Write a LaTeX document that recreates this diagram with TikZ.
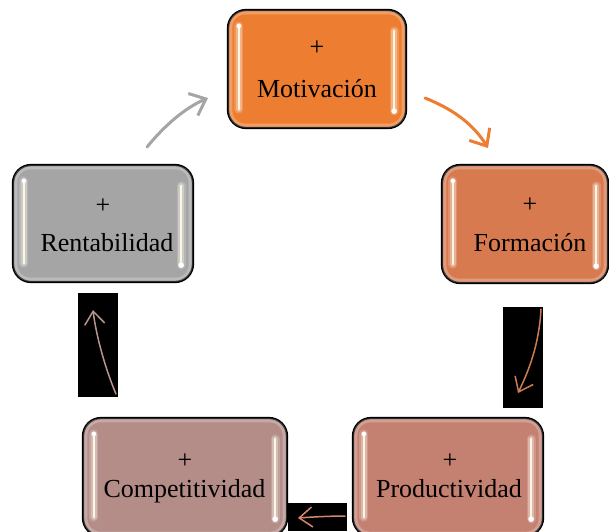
\documentclass[tikz,border=0pt]{standalone}
\usepackage{fontspec}
\setmainfont{Liberation Serif}
\usetikzlibrary{arrows.meta,calc}

\definecolor{motfill}{RGB}{237,125,49}
\definecolor{forfill}{RGB}{216,122,80}
\definecolor{profill}{RGB}{196,128,112}
\definecolor{comfill}{RGB}{180,141,136}
\definecolor{renfill}{RGB}{165,165,165}
\definecolor{arrowA}{RGB}{237,125,49}
\definecolor{arrowB}{RGB}{205,125,85}
\definecolor{arrowC}{RGB}{212,135,110}
\definecolor{arrowD}{RGB}{184,148,142}
\definecolor{arrowE}{RGB}{165,165,165}
\definecolor{shine}{RGB}{255,246,220}

\tikzset{
  stagebox/.style={draw=black, line width=2.3pt, rounded corners=18pt, fill=#1},
  stagetext/.style={font=\fontsize{26pt}{30pt}\selectfont, anchor=base, inner sep=0pt},
  thickflow/.style={line width=3pt, line cap=round,
    -{Straight Barb[length=14pt,width=24pt,line width=3pt]}},
  thinflow/.style={line width=1.5pt, line cap=round,
    -{Straight Barb[length=13pt,width=20pt,line width=1.5pt]}},
  inkpanel/.style={fill=black},
  glowline/.style={line cap=round},
}

% one glossy bar between two points
\newcommand\shinebar[3]{%
  \draw[glowline, white, opacity=0.18, line width=9pt] #2 -- #3;
  \draw[glowline, white, opacity=0.30, line width=5.5pt] #2 -- #3;
  \draw[glowline, shine, line width=2.6pt] #2 -- #3;
}

% glossy highlights of a stage box
\newcommand\stagegloss[1]{%
  \draw[white, opacity=0.25, line width=4pt, rounded corners=15pt]
    ($(#1.north west)+(3.5,3.5)$) rectangle ($(#1.south east)+(-3.5,-3.5)$);
  \shinebar{#1}{($(#1.north west)+(12,17)$)}{($(#1.south west)+(12,-20)$)}
  \shinebar{#1}{($(#1.north east)+(-13,22)$)}{($(#1.south east)+(-13,-18)$)}
  \fill[white] ($(#1.north west)+(12,17)$) circle (2.3pt);
  \fill[white] ($(#1.south east)+(-13,-18)$) circle (2.8pt);
}

\begin{document}
\begin{tikzpicture}[x=1pt, y=-1pt]
  \useasboundingbox (0,0) rectangle (609,531);
  \fill[white] (0,0) rectangle (609,531);

  % stage boxes
  \node[stagebox=motfill, minimum width=178pt, minimum height=118pt] (mot) at (317,69) {};
  \node[stagebox=forfill, minimum width=166pt, minimum height=118pt] (for) at (525,224) {};
  \node[stagebox=profill, minimum width=190pt, minimum height=118pt] (pro) at (448,477) {};
  \node[stagebox=comfill, minimum width=204pt, minimum height=118pt] (com) at (185,477) {};
  \node[stagebox=renfill, minimum width=180pt, minimum height=117pt] (ren) at (103,223.5) {};

  \stagegloss{mot}
  \stagegloss{for}
  \stagegloss{pro}
  \stagegloss{com}
  \stagegloss{ren}

  % labels
  \node[stagetext] (mot-plus) at (317,55) {+};
  \node[stagetext] (mot-name) at (317,97) {Motivación};
  \node[stagetext] (for-plus) at (530,212) {+};
  \node[stagetext] (for-name) at (530,251.5) {Formación};
  \node[stagetext] (pro-plus) at (450,468) {+};
  \node[stagetext] (pro-name) at (449,497) {Productividad};
  \node[stagetext] (com-plus) at (185,468) {+};
  \node[stagetext] (com-name) at (184.5,497) {Competitividad};
  \node[stagetext] (ren-plus) at (103,213) {+};
  \node[stagetext] (ren-name) at (107,251.5) {Rentabilidad};

  % dark panels behind three of the arrows
  \fill[inkpanel] (503,307) rectangle (543,408);
  \fill[inkpanel] (288,503) rectangle (347,531);
  \fill[inkpanel] (78,293) rectangle (118,397);

  % arrow end points
  \coordinate (a1s) at (425,98);   \coordinate (a1e) at (488,148);
  \coordinate (a2s) at (541,309);  \coordinate (a2e) at (518,393);
  \coordinate (a3s) at (345,516);  \coordinate (a3e) at (298,518);
  \coordinate (a4s) at (116,394);  \coordinate (a4e) at (93,310);
  \coordinate (a5s) at (147,147);  \coordinate (a5e) at (208,98);

  % cycle arrows
  \draw[thickflow, arrowA] (a1s) .. controls (450,108) and (472,122) .. (a1e);
  \draw[thinflow, arrowB] (a2s) .. controls (539,345) and (529,370) .. (a2e);
  \draw[thinflow, arrowC] (a3s) .. controls (330,516) and (312,517) .. (a3e);
  \draw[thinflow, arrowD] (a4s) .. controls (105,368) and (96,335) .. (a4e);
  \draw[thickflow, arrowE] (a5s) .. controls (165,125) and (185,108) .. (a5e);
\end{tikzpicture}
\end{document}
